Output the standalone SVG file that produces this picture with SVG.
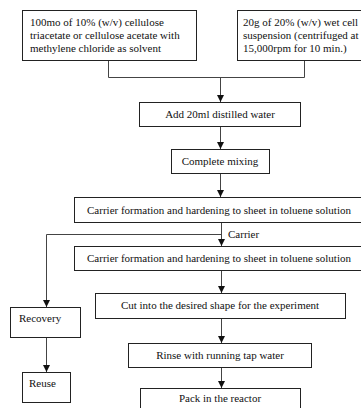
<svg xmlns="http://www.w3.org/2000/svg" width="361" height="408" viewBox="0 0 361 408">
<style>
.box{fill:#fff;stroke:#222;stroke-width:1}
.ln{fill:none;stroke:#444;stroke-width:1}
text{font-family:"Liberation Serif","Times New Roman",serif;font-size:11px;fill:#111}
.c{text-anchor:middle}
</style>
<defs>
<marker id="ah" viewBox="0 0 8 8" refX="8" refY="4" markerWidth="7" markerHeight="7" markerUnits="userSpaceOnUse" orient="auto">
<path d="M0,0 L8,4 L0,8 Z" fill="#111"/>
</marker>
</defs>
<rect width="361" height="408" fill="#fff"/>
<g id="connectors">
<polyline class="ln" points="108.5,60 108.5,77.5 304.5,77.5 304.5,60"/>
<line class="ln" x1="220.5" y1="77.5" x2="220.5" y2="102" marker-end="url(#ah)"/>
<line class="ln" x1="220.5" y1="127" x2="220.5" y2="149" marker-end="url(#ah)"/>
<line class="ln" x1="220.5" y1="173" x2="220.5" y2="197" marker-end="url(#ah)"/>
<line class="ln" x1="221.5" y1="222" x2="221.5" y2="246" marker-end="url(#ah)"/>
<polyline class="ln" points="221.5,234.5 46.5,234.5 46.5,307" marker-end="url(#ah)"/>
<line class="ln" x1="221.5" y1="270" x2="221.5" y2="293" marker-end="url(#ah)"/>
<line class="ln" x1="221.5" y1="318" x2="221.5" y2="343" marker-end="url(#ah)"/>
<line class="ln" x1="221.5" y1="367" x2="221.5" y2="388" marker-end="url(#ah)"/>
<line class="ln" x1="46.5" y1="337" x2="46.5" y2="372" marker-end="url(#ah)"/>
<text x="228" y="238">Carrier</text>
</g>
<g id="n1">
<rect class="box" x="22.5" y="10.5" width="174" height="50"/>
<text x="30" y="26">100mo of 10% (w/v) cellulose</text>
<text x="30" y="39">triacetate or cellulose acetate with</text>
<text x="30" y="52">methylene chloride as solvent</text>
</g>
<g id="n2">
<rect class="box" x="237.5" y="10.5" width="140" height="50"/>
<text x="243" y="26">20g of 20% (w/v) wet cell</text>
<text x="243" y="39">suspension (centrifuged at</text>
<text x="243" y="52">15,000rpm for 10 min.)</text>
</g>
<g id="n3">
<rect class="box" x="139.5" y="102.5" width="161" height="24"/>
<text class="c" x="220" y="118">Add 20ml distilled water</text>
</g>
<g id="n4">
<rect class="box" x="171.5" y="149.5" width="98" height="24"/>
<text class="c" x="220" y="165">Complete mixing</text>
</g>
<g id="n5">
<rect class="box" x="74.5" y="197.5" width="295" height="25"/>
<text class="c" x="219" y="213.5">Carrier formation and hardening to sheet in toluene solution</text>
</g>
<g id="n6">
<rect class="box" x="74.5" y="246.5" width="295" height="24"/>
<text class="c" x="219" y="262">Carrier formation and hardening to sheet in toluene solution</text>
</g>
<g id="n7">
<rect class="box" x="95.5" y="293.5" width="250" height="25"/>
<text class="c" x="220" y="309">Cut into the desired shape for the experiment</text>
</g>
<g id="n8">
<rect class="box" x="128.5" y="343.5" width="183" height="24"/>
<text class="c" x="220" y="359">Rinse with running tap water</text>
</g>
<g id="n9">
<rect class="box" x="140.5" y="388.5" width="160" height="30"/>
<text class="c" x="220" y="402">Pack in the reactor</text>
</g>
<g id="n10">
<rect class="box" x="10.5" y="307.5" width="70" height="30"/>
<text x="19" y="321.5">Recovery</text>
</g>
<g id="n11">
<rect class="box" x="22.5" y="372.5" width="48" height="30"/>
<text x="29" y="387">Reuse</text>
</g>
</svg>
